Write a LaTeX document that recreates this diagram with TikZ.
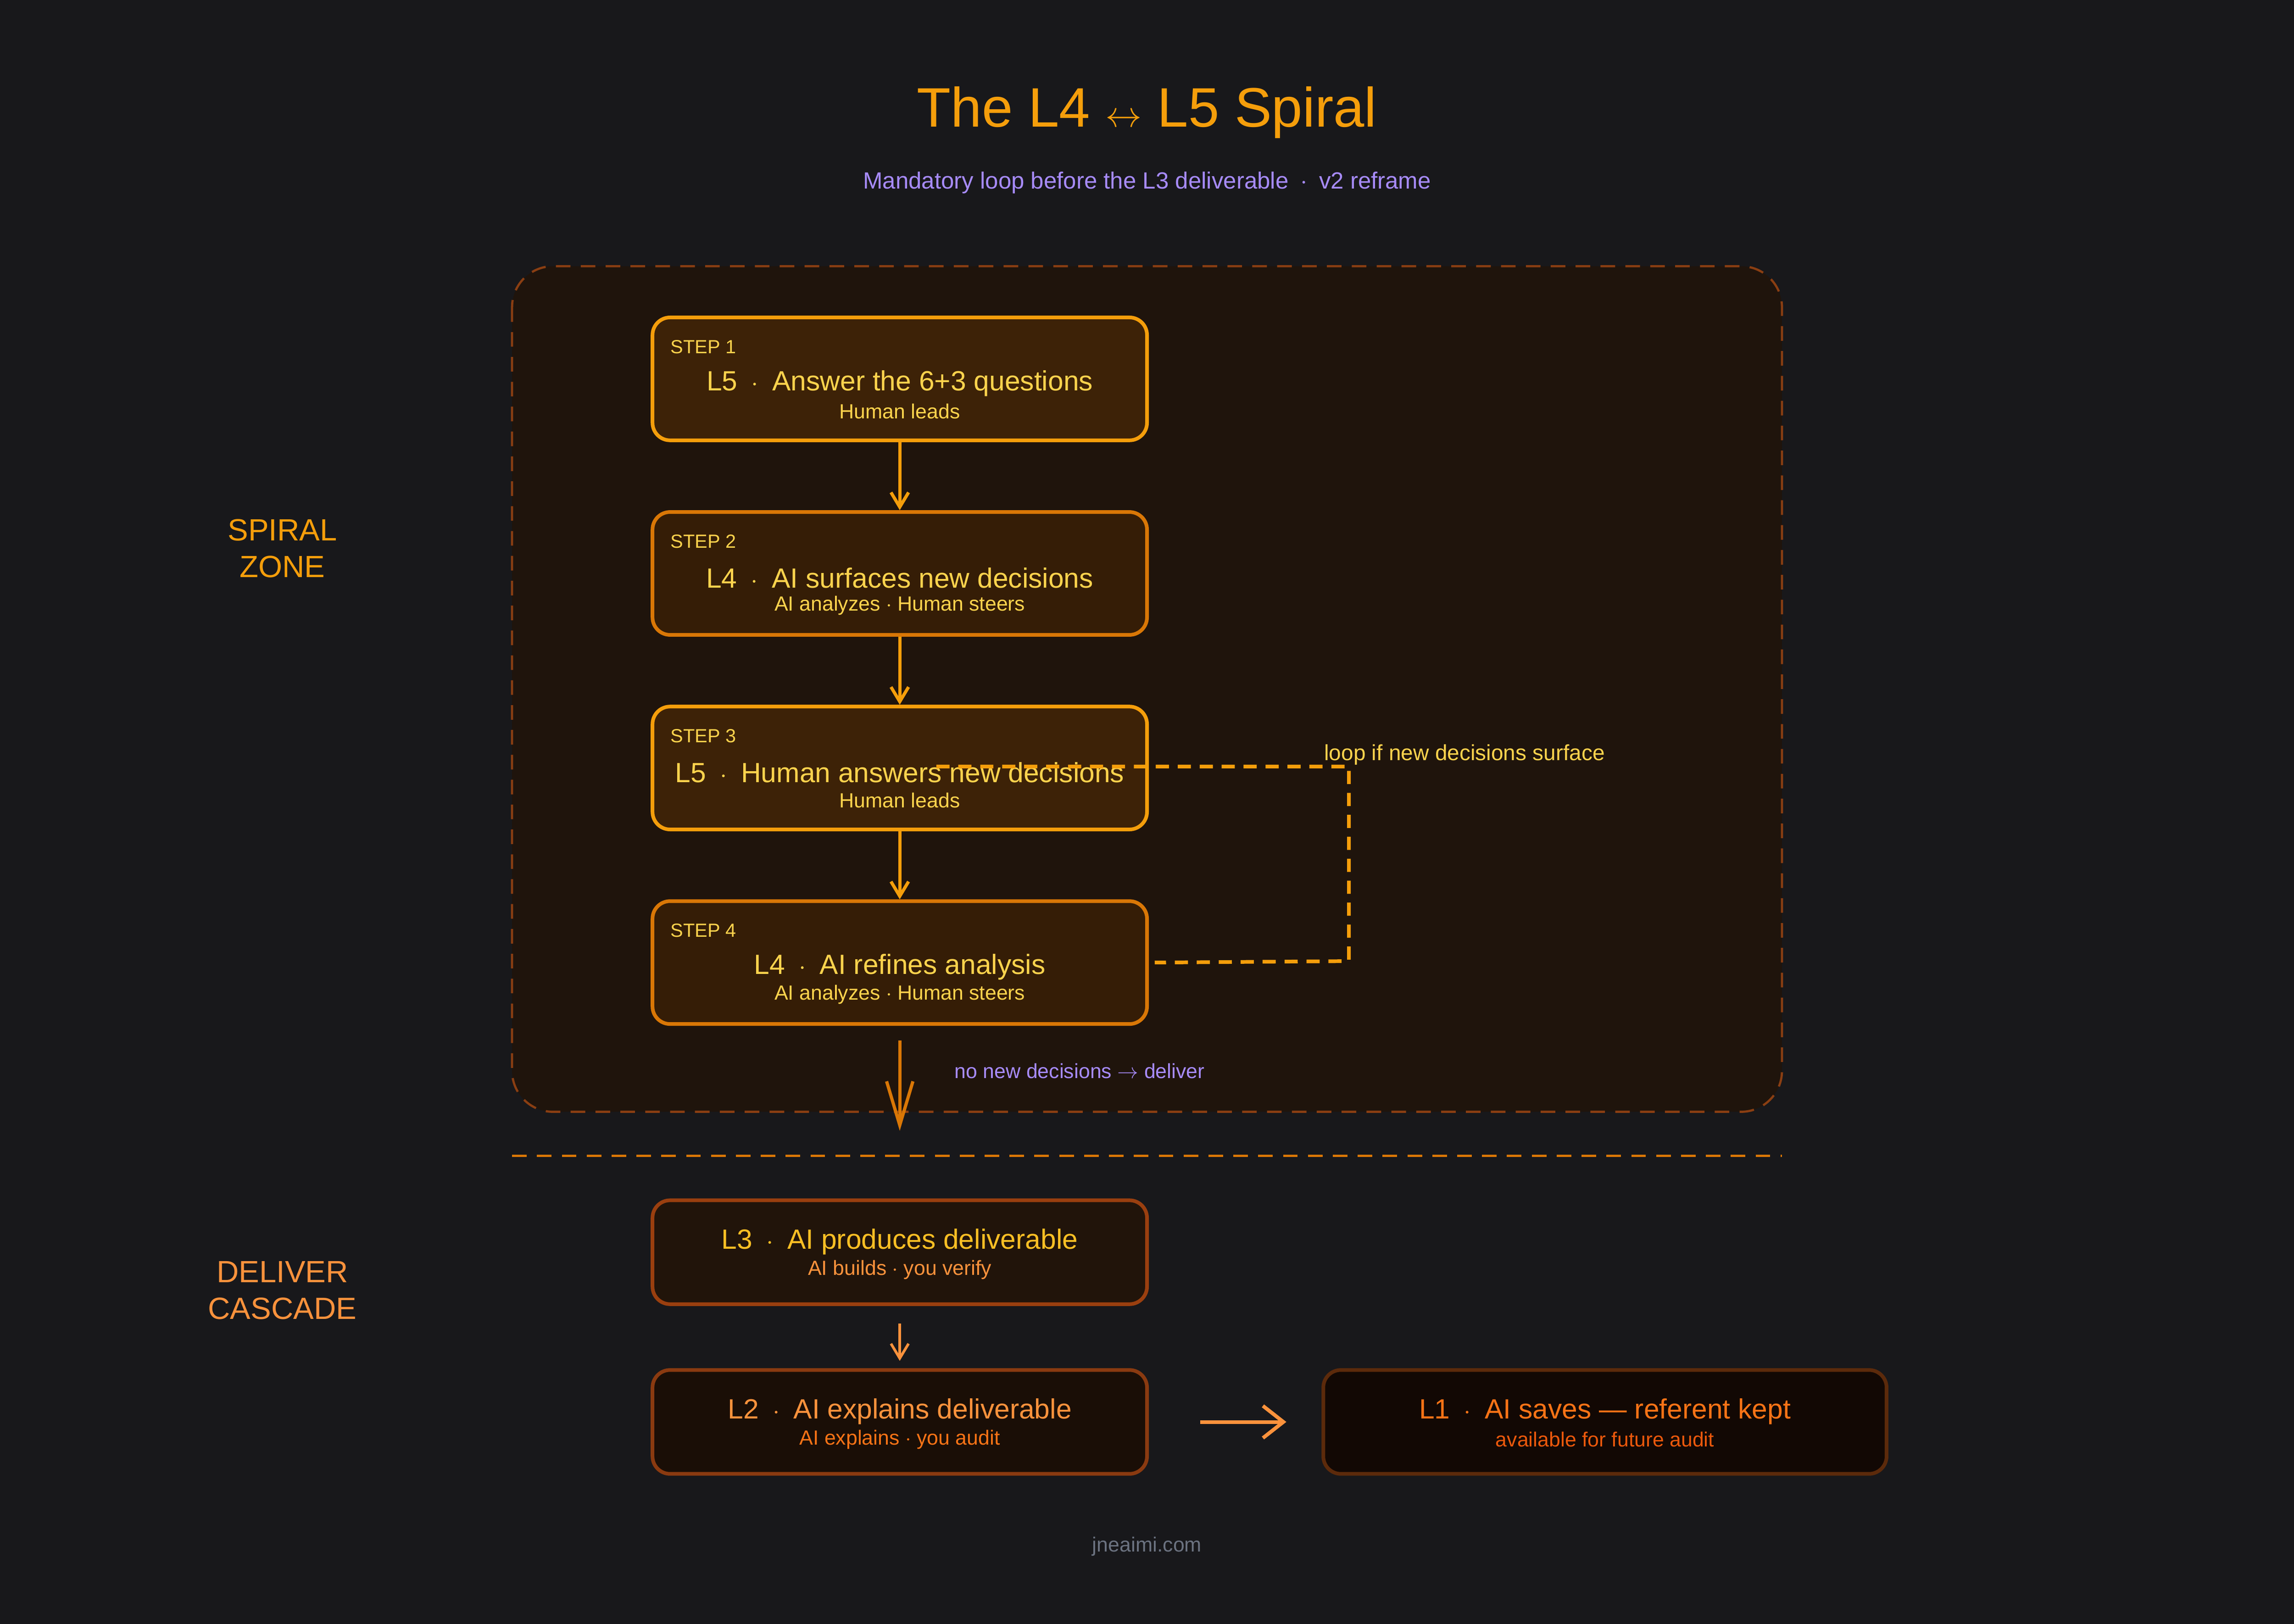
\documentclass[tikz,border=0pt]{standalone}
\usepackage{fontspec}
\setmainfont{Liberation Sans}
\usetikzlibrary{positioning,arrows.meta,calc}
\definecolor{bgc}{HTML}{18181B}
\definecolor{amb}{HTML}{F59E0B}
\definecolor{ambd}{HTML}{D97706}
\definecolor{yel}{HTML}{FCD34D}
\definecolor{gold}{HTML}{FBBF24}
\definecolor{org}{HTML}{FB923C}
\definecolor{orgd}{HTML}{F97316}
\definecolor{orgx}{HTML}{EA580C}
\definecolor{purp}{HTML}{A78BFA}
\definecolor{zonef}{HTML}{1F140C}
\definecolor{zoned}{HTML}{8A3E12}
\definecolor{stepa}{HTML}{3D2207}
\definecolor{stepb}{HTML}{351D06}
\definecolor{lthreed}{HTML}{9A3F0F}
\definecolor{lthreef}{HTML}{21140A}
\definecolor{ltwod}{HTML}{8A3A10}
\definecolor{ltwof}{HTML}{1A0E06}
\definecolor{loned}{HTML}{5C2A0B}
\definecolor{lonef}{HTML}{120804}
\definecolor{foot}{HTML}{6B7280}
\tikzset{
  box/.style={draw, rounded corners=12pt, line width=2.5pt, minimum width=338pt, minimum height=84pt},
  steptag/.style={font=\fontsize{13}{13}\selectfont, text=yel, anchor=west},
  maintxt/.style={font=\fontsize{19}{19}\selectfont},
  subtxt/.style={font=\fontsize{14}{14}\selectfont},
  flow/.style={-{Straight Barb[length=10pt,width=12pt]}, line width=2.2pt},
}
\newcommand{\sep}{\enspace$\cdot$\enspace}
\begin{document}
\begin{tikzpicture}[x=1pt, y=-1pt]
  \fill[bgc] (0,0) rectangle (1568,1110);
  \useasboundingbox (0,0) rectangle (1568,1110);
  % title
  \node[text=amb, font=\fontsize{38}{38}\selectfont] (title) at (784,77) {The L4 $\leftrightarrow$ L5 Spiral};
  \node[text=purp, font=\fontsize{16}{16}\selectfont] (subtitle) at (784,125) {Mandatory loop before the L3 deliverable\enspace$\cdot$\enspace v2 reframe};
  % spiral zone
  \draw[zoned, fill=zonef, dashed, dash pattern=on 10pt off 7pt, line width=1.5pt, rounded corners=28pt] (350,182) rectangle (1218,760);
  \node[text=amb, font=\fontsize{21}{25}\selectfont, align=center] (zonelbl) at (193,375) {SPIRAL\\ZONE};
  \node[text=org, font=\fontsize{21}{25}\selectfont, align=center] (delivlbl) at (193,882) {DELIVER\\CASCADE};
  % steps
  \node[box, draw=amb, fill=stepa] (s1) at (615,259) {};
  \node[box, draw=ambd, fill=stepb] (s2) at (615,392) {};
  \node[box, draw=amb, fill=stepa] (s3) at (615,525) {};
  \node[box, draw=ambd, fill=stepb] (s4) at (615,658) {};
  \foreach \n/\k/\m/\s in {s1/1/L5\sep Answer the 6+3 questions/Human leads,
                           s2/2/L4\sep AI surfaces new decisions/AI analyzes $\cdot$ Human steers,
                           s3/3/L5\sep Human answers new decisions/Human leads,
                           s4/4/L4\sep AI refines analysis/AI analyzes $\cdot$ Human steers} {
    \node[steptag] (\n tag) at ($(\n.west)+(10,-22)$) {STEP \k};
    \node[maintxt, text=yel] (\n main) at ($(\n.center)+(0,3)$) {\m};
    \node[subtxt, text=yel] (\n sub) at ($(\n.center)+(0,22)$) {\s};
  }
  \draw[flow, amb] (s1) -- (s2);
  \draw[flow, amb] (s2) -- (s3);
  \draw[flow, amb] (s3) -- (s4);
  % loop
  \coordinate (lp1) at (640,524);
  \coordinate (lp2) at (922,524);
  \coordinate (lp3) at (922,657);
  \draw[amb, dashed, dash pattern=on 9pt off 6pt, line width=2.5pt] (lp1) -- (lp2) -- (lp3) -- ($(s4.east)+(4,0)$);
  \node[text=yel, font=\fontsize{15}{15}\selectfont] (looplbl) at (1001,516) {loop if new decisions surface};
  % exit
  \coordinate (exitend) at (615,773);
  \draw[-{Straight Barb[length=30pt,width=18pt]}, line width=2.2pt, ambd] ($(s4.south)+(0,10)$) -- (exitend);
  \node[text=purp, font=\fontsize{14}{14}\selectfont, anchor=west] (exitlbl) at (649,732) {no new decisions $\rightarrow$ deliver};
  \draw[ambd, dashed, dash pattern=on 10pt off 7pt, line width=1.5pt] (350,790) -- (1218,790);
  % cascade
  \node[box, minimum height=71pt, draw=lthreed, fill=lthreef] (l3) at (615,856) {};
  \node[box, minimum height=71pt, draw=ltwod, fill=ltwof] (l2) at (615,972) {};
  \node[box, minimum height=71pt, minimum width=385pt, draw=loned, fill=lonef] (l1) at (1097,972) {};
  \node[maintxt, text=gold] (l3main) at ($(l3.center)+(0,-7)$) {L3\sep AI produces deliverable};
  \node[subtxt, text=org] (l3sub) at ($(l3.center)+(0,12)$) {AI builds $\cdot$ you verify};
  \node[maintxt, text=org] (l2main) at ($(l2.center)+(0,-7)$) {L2\sep AI explains deliverable};
  \node[subtxt, text=orgd] (l2sub) at ($(l2.center)+(0,12)$) {AI explains $\cdot$ you audit};
  \node[maintxt, text=orgd] (l1main) at ($(l1.center)+(0,-7)$) {L1\sep AI saves --- referent kept};
  \node[subtxt, text=orgx] (l1sub) at ($(l1.center)+(0,12)$) {available for future audit};
  \draw[flow, org, line width=1.8pt] ($(l3.south)+(0,12)$) -- ($(l2.north)+(0,-5)$);
  \draw[-{Straight Barb[length=14pt,width=22pt]}, line width=2.5pt, org] ($(l2.east)+(35,0)$) -- ($(l1.west)+(-24,0)$);
  \node[text=foot, font=\fontsize{14}{14}\selectfont] (footer) at (784,1057) {jneaimi.com};
\end{tikzpicture}
\end{document}
